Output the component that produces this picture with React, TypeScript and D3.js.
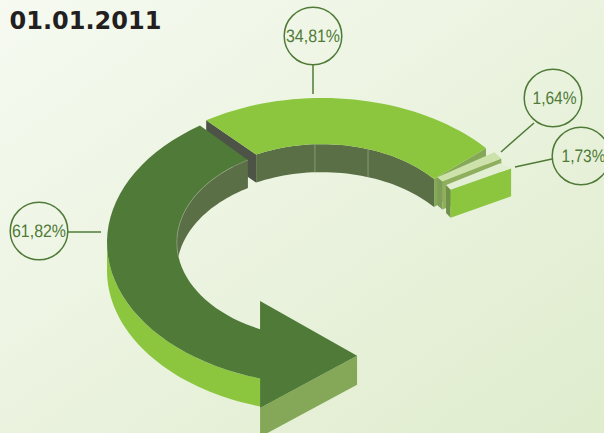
import React from "react";
import * as d3 from "d3";

const title = "01.01.2011";
const shares = [61.82, 34.81, 1.64, 1.73];
const shareLabels = ["61,82%", "34,81%", "1,64%", "1,73%"];

const W = 604, H = 433;
const rInner = 0.675;
const depth = 28;
const x = d3.scaleLinear().domain([-1, 1]).range([107, 537]);
const y = d3.scaleLinear().domain([-1, 1]).range([382, 98]);
const sweep = d3.scaleLinear().domain([0, 100]).range([0, 230]);

type P = [number, number];
const rad = (a: number) => (a * Math.PI) / 180;
const pt = (r: number, a: number, d = 0): P => [x(r * Math.sin(rad(a))), y(r * Math.cos(rad(a))) + d];
const arc = (r: number, a0: number, a1: number, d = 0): P[] =>
  d3.range(0, 41).map((i) => pt(r, a0 + ((a1 - a0) * i) / 40, d));
const line = d3.line<P>();
const poly = (pts: P[]) => line(pts)! + "Z";
const drop = (p: P, d = depth): P => [p[0], p[1] + d];

const C = {
  lime: "#8CC63F",
  dark: "#4F7A37",
  wall: "#5A6F45",
  grey: "#4D5347",
  side: "#85A858",
  stripe: "#8FAE5E",
  inner: "#7E9E55",
  innerDark: "#6F9147",
  pale: "#CDE2AA",
  paler: "#E2EFD2",
  ink: "#4F7A37",
};

// ring segment 1 (34,81 %)
const a1Start = -27;
const a1End = a1Start + sweep(shares[1]) - 2.5;
const a1OuterStart = -32.6;
const a1OuterEnd = 49.7;
const dividers = [-2.8, 18.5];

// arrow
const arrowLift = 2.5;
const arrowOuterStart = -34.6;
const arrowInnerStart = -30.7;
const shaftU = -0.288;
const arrowOuterEnd = -180 + (Math.asin(-shaftU) * 180) / Math.PI;
const arrowInnerEnd = -180 + (Math.asin(-shaftU / rInner) * 180) / Math.PI;
const headTop: P = [x(shaftU), y(-0.43)];
const headBottom: P = [x(shaftU), y(-1.183)];
const headTip: P = [x(0.163), y(-0.815)];

const bubbles = [
  { i: 0, cx: 39, cy: 231, tx: 39, from: [68, 232], to: [101, 232], len: 54 },
  { i: 1, cx: 313, cy: 36, tx: 313, from: [313, 65], to: [313, 94], len: 54 },
  { i: 2, cx: 553, cy: 98, tx: 554.5, from: [534, 123], to: [501, 152], len: 44 },
  { i: 3, cx: 581, cy: 156, tx: 583.5, from: [552, 159], to: [515, 167], len: 44 },
];

function Slice({ share, innerA, outerA, rBack, rFront, top, front, inner }: {
  share: number; innerA: number; outerA: number; rBack: number; rFront: number; top: string; front: string; inner: string;
}) {
  const span = sweep(share) * 0.82;
  const bi = pt(rInner * 1.03, innerA);
  const fi = pt(rInner * 1.03, innerA + span);
  const bo = pt(rBack, outerA);
  const fo = pt(rFront, outerA + span);
  return (
    <g>
      <path d={poly([bi, fi, drop(fi), drop(bi)])} fill={inner} />
      <path d={poly([fi, fo, drop(fo), drop(fi)])} fill={front} />
      <path d={poly([bi, bo, fo, fi])} fill={top} />
    </g>
  );
}

export default function App() {
  const seg1Top = [...arc(1, a1OuterStart, a1OuterEnd), ...arc(rInner, a1End, a1Start)];
  const cornerO = pt(1, a1OuterStart);
  const cornerI = pt(rInner, a1Start);
  const endO = pt(1, a1OuterEnd);
  const endI = pt(rInner, a1End);

  const arrowTop = [
    ...arc(1, arrowOuterStart, arrowOuterEnd, arrowLift),
    headBottom,
    headTip,
    headTop,
    ...arc(rInner, arrowInnerEnd, arrowInnerStart, arrowLift),
  ];
  const limeWall = [...arc(1, -90, arrowOuterEnd, arrowLift), ...arc(1, arrowOuterEnd, -90, depth + arrowLift)];
  const crossing = (Math.acos(-(depth / 2) / (((382 - 98) / 2) * rInner)) * 180) / Math.PI;
  const arrowWall = [
    ...arc(rInner, arrowInnerStart, -crossing, arrowLift),
    ...arc(rInner, -(180 - crossing), arrowInnerStart, depth + arrowLift),
  ];
  const wallEdge = line(arc(rInner, arrowInnerStart, -crossing, arrowLift))!;

  return (
    <svg width={W} height={H} viewBox={`0 0 ${W} ${H}`} style={{ position: "absolute", left: 0, top: 0, display: "block" }}>
      <defs>
        <linearGradient id="bg" x1="0" y1="0" x2="1" y2="1">
          <stop offset="0" stopColor="#F6FAF1" />
          <stop offset="1" stopColor="#DFECCD" />
        </linearGradient>
      </defs>
      <rect width={W} height={H} fill="url(#bg)" />
      <text x={9.5} y={29} fontFamily="DejaVu Sans" fontWeight="bold" fontSize={24} fill="#231F20">{title}</text>

      {/* segment 1 */}
      <path d={poly([cornerO, cornerI, drop(cornerI), drop(cornerO)])} fill={C.grey} />
      <path d={poly([...arc(rInner, a1Start, a1End), ...arc(rInner, a1End, a1Start, depth)])} fill={C.wall} />
      {dividers.map((a) => {
        const p = pt(rInner, a);
        return <line key={a} x1={p[0]} y1={p[1]} x2={p[0]} y2={p[1] + depth} stroke="#93A585" strokeWidth={0.8} />;
      })}
      <path d={poly([endI, endO, drop(endO), drop(endI)])} fill={C.side} />
      <path d={poly(seg1Top)} fill={C.lime} />

      <Slice share={shares[2]} innerA={50.5} outerA={52.4} rBack={1.012} rFront={1.012} top={C.pale} front={C.stripe} inner={C.inner} />
      <Slice share={shares[3]} innerA={56.1} outerA={56.9} rBack={0.989} rFront={1.014} top={C.paler} front={C.lime} inner={C.innerDark} />

      {/* arrow */}
      <path d={poly(arrowWall)} fill={C.wall} />
      <path d={poly(limeWall)} fill={C.lime} />
      <path d={poly([headBottom, headTip, drop(headTip, 29), drop(headBottom, 29)])} fill={C.side} />
      <path d={poly(arrowTop)} fill={C.dark} />
      <path d={wallEdge} fill="none" stroke="#93A585" strokeWidth={0.7} />

      {bubbles.map((b) => (
        <g key={b.i}>
          <line x1={b.from[0]} y1={b.from[1]} x2={b.to[0]} y2={b.to[1]} stroke={C.ink} strokeWidth={1.5} />
          <circle cx={b.cx} cy={b.cy} r={28.8} fill="none" stroke={C.ink} strokeWidth={1.5} />
          <text x={b.tx} y={b.cy + 5.5} textAnchor="middle" fontFamily="Liberation Sans" fontSize={18} textLength={b.len} lengthAdjust="spacingAndGlyphs" textRendering="geometricPrecision" fill={C.ink}>
            {shareLabels[b.i]}
          </text>
        </g>
      ))}
    </svg>
  );
}
